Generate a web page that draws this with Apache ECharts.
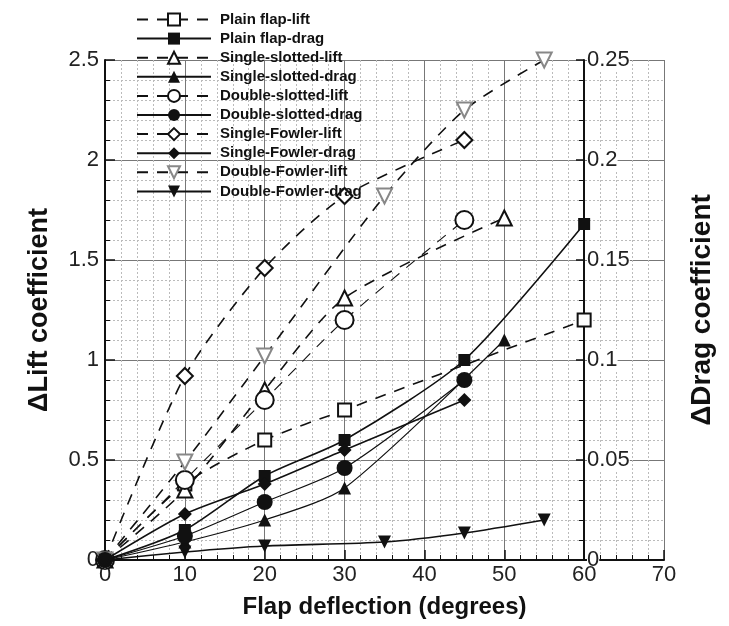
<!DOCTYPE html>
<html>
<head>
<meta charset="utf-8">
<script src="https://cdn.jsdelivr.net/npm/echarts@6/dist/echarts.min.js"></script>
<style>html,body{margin:0;padding:0;background:#fff;}#c{width:729px;height:626px;}</style>
</head>
<body>
<div id="c"></div>
<script>
// Flap deflection (degrees) and coefficient values
const plainLiftX = [0, 10, 20, 30, 60];
const plainLiftY = [0, 0.38, 0.6, 0.75, 1.2];
const plainDragX = [0, 10, 20, 30, 45, 60];
const plainDragY = [0, 0.015, 0.042, 0.06, 0.1, 0.168];

const ssLiftX = [0, 10, 20, 30, 50];
const ssLiftY = [0, 0.35, 0.85, 1.31, 1.71];
const ssDragX = [0, 10, 20, 30, 50];
const ssDragY = [0, 0.009, 0.02, 0.036, 0.11];

const dsLiftX = [0, 10, 20, 30, 45];
const dsLiftY = [0, 0.4, 0.8, 1.2, 1.7];
const dsDragX = [0, 10, 20, 30, 45];
const dsDragY = [0, 0.012, 0.029, 0.046, 0.09];

const sfLiftX = [0, 10, 20, 30, 45];
const sfLiftY = [0, 0.92, 1.46, 1.82, 2.1];
const sfDragX = [0, 10, 20, 30, 45];
const sfDragY = [0, 0.023, 0.038, 0.055, 0.08];

const dfLiftX = [0, 10, 20, 35, 45, 55];
const dfLiftY = [0, 0.49, 1.02, 1.82, 2.25, 2.5];
const dfDragX = [0, 10, 20, 35, 45, 55];
const dfDragY = [0, 0.004, 0.007, 0.009, 0.0135, 0.02];

const xTicks = [0, 10, 20, 30, 40, 50, 60, 70];
const liftTicks = [0, 0.5, 1, 1.5, 2, 2.5];
const dragTicks = [0, 0.05, 0.1, 0.15, 0.2, 0.25];

const names = ['Plain flap-lift','Plain flap-drag','Single-slotted-lift','Single-slotted-drag',
  'Double-slotted-lift','Double-slotted-drag','Single-Fowler-lift','Single-Fowler-drag',
  'Double-Fowler-lift','Double-Fowler-drag'];

const pairs = (xs, ys) => xs.map((x, i) => [x, ys[i]]);
const FONT = 'Liberation Sans, Arial, sans-serif';

function lift(name, xs, ys, symbol, size, opts) {
  opts = opts || {};
  return {
    name, type: 'line', yAxisIndex: 0, data: pairs(xs, ys),
    smooth: 0.25,
    symbol, symbolSize: size, symbolRotate: opts.rotate || 0,
    showAllSymbol: true,
    lineStyle: { color: opts.lineColor || '#111', width: opts.width || 1.6, type: [11, 9] },
    itemStyle: { color: opts.color || '#111', borderWidth: 1.6 },
    z: 3
  };
}
function drag(name, xs, ys, symbol, size, opts) {
  opts = opts || {};
  return {
    name, type: 'line', yAxisIndex: 1, data: pairs(xs, ys),
    smooth: 0.25,
    symbol, symbolSize: size, symbolRotate: opts.rotate || 0,
    showAllSymbol: true,
    lineStyle: { color: '#111', width: opts.width || 1.6, type: 'solid' },
    itemStyle: { color: '#111' },
    z: 4
  };
}

const series = [
  lift(names[0], plainLiftX, plainLiftY, 'emptyRect', 13),
  drag(names[1], plainDragX, plainDragY, 'rect', 12),
  lift(names[2], ssLiftX, ssLiftY, 'emptyTriangle', 15),
  drag(names[3], ssDragX, ssDragY, 'triangle', 13, {width: 1.2}),
  lift(names[4], dsLiftX, dsLiftY, 'emptyCircle', 18, {width: 1.1}),
  drag(names[5], dsDragX, dsDragY, 'circle', 16, {width: 1.2}),
  lift(names[6], sfLiftX, sfLiftY, 'emptyDiamond', 16),
  drag(names[7], sfDragX, sfDragY, 'diamond', 14),
  lift(names[8], dfLiftX, dfLiftY, 'emptyTriangle', 15, {rotate: 180, color: '#888'}),
  drag(names[9], dfDragX, dfDragY, 'triangle', 13, {rotate: 180})
];

const chart = echarts.init(document.getElementById('c'), null, {renderer: 'canvas'});
chart.setOption({
  animation: false,
  backgroundColor: '#fff',
  textStyle: { fontFamily: FONT },
  grid: { left: 105, right: 65, top: 60, bottom: 66, containLabel: false },
  legend: {
    orient: 'vertical', left: 131, top: 7,
    itemWidth: 74, itemHeight: 15, itemGap: 4.1,
    textStyle: { fontFamily: FONT, fontWeight: 'bold', fontSize: 15, color: '#111', padding: [0,0,0,4] },
    data: names
  },
  xAxis: {
    type: 'value', min: xTicks[0], max: xTicks[xTicks.length - 1], interval: 10,
    name: 'Flap deflection (degrees)', nameLocation: 'middle', nameGap: 35,
    nameTextStyle: { fontFamily: FONT, fontWeight: 'bold', fontSize: 24, color: '#111' },
    axisLine: { show: true, lineStyle: { color: '#111', width: 2 } },
    axisTick: { show: true, inside: true, length: 10, lineStyle: { color: '#111', width: 1.5 } },
    minorTick: { show: true, splitNumber: 5, length: 5, lineStyle: { color: '#111', width: 1 } },
    axisLabel: { fontSize: 22, color: '#222', margin: 4 },
    splitLine: { show: true, lineStyle: { color: '#777', width: 1 } },
    minorSplitLine: { show: true, lineStyle: { color: '#bbb', width: 1, type: [2, 2] } }
  },
  yAxis: [{
    type: 'value', min: liftTicks[0], max: liftTicks[liftTicks.length - 1], interval: 0.5,
    position: 'left',
    name: 'ΔLift coefficient', nameLocation: 'middle', nameGap: 52, nameRotate: 90,
    nameTextStyle: { fontFamily: FONT, fontWeight: 'bold', fontSize: 27, color: '#111' },
    axisLine: { show: true, lineStyle: { color: '#111', width: 2 } },
    axisTick: { show: true, inside: true, length: 10, lineStyle: { color: '#111', width: 1.5 } },
    minorTick: { show: true, splitNumber: 5, length: 5, lineStyle: { color: '#111', width: 1 } },
    axisLabel: { fontSize: 22, color: '#222', margin: 6 },
    splitLine: { show: true, lineStyle: { color: '#777', width: 1 } },
    minorSplitLine: { show: true, lineStyle: { color: '#bbb', width: 1, type: [2, 2] } }
  }, {
    type: 'value', min: dragTicks[0], max: dragTicks[dragTicks.length - 1], interval: 0.05,
    position: 'right', offset: -80,
    name: 'ΔDrag coefficient', nameLocation: 'middle', nameGap: 104, nameRotate: 90,
    nameTextStyle: { fontFamily: FONT, fontWeight: 'bold', fontSize: 28, color: '#111' },
    axisLine: { show: true, lineStyle: { color: '#111', width: 2 } },
    axisTick: { show: true, inside: true, length: 8, lineStyle: { color: '#111', width: 1.5 } },
    minorTick: { show: true, splitNumber: 5, length: 5, lineStyle: { color: '#111', width: 1 } },
    axisLabel: { fontSize: 22, color: '#222', margin: 3, backgroundColor: '#fff',
      formatter: v => String(+v.toFixed(2)) },
    splitLine: { show: false },
    minorSplitLine: { show: false }
  }],
  series
});
</script>
</body>
</html>
